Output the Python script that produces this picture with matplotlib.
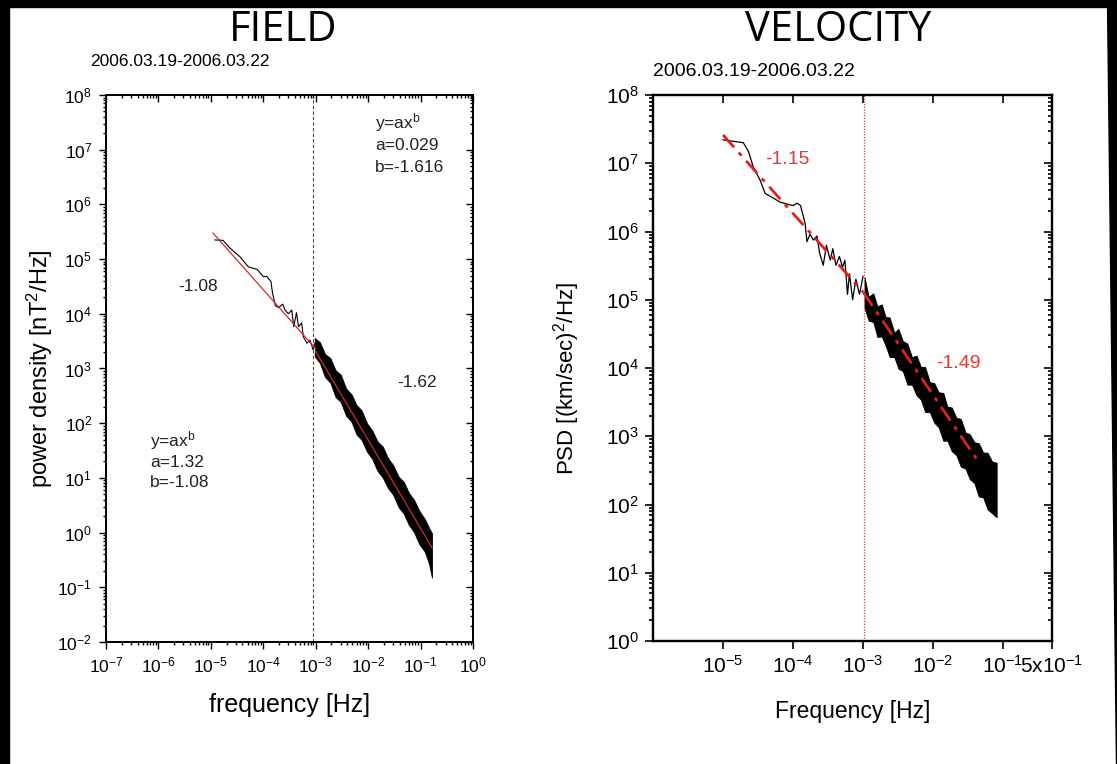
import numpy as np
import matplotlib.pyplot as plt
from matplotlib.patches import Rectangle, Polygon
from matplotlib.ticker import LogLocator, NullLocator, NullFormatter

plt.rcParams['font.family'] = ['Liberation Sans', 'DejaVu Sans']
plt.rcParams['mathtext.fontset'] = 'custom'
plt.rcParams['mathtext.rm'] = 'Liberation Sans'
plt.rcParams['mathtext.it'] = 'Liberation Sans:italic'
plt.rcParams['mathtext.default'] = 'regular'

# ---- FIELD spectrum ----
field_f = [1.2e-5, 1.7e-5, 2.3e-5, 3.6e-5, 5.2e-5, 7.6e-5, 1.0e-4, 1.17e-4, 1.4e-4, 1.5e-4,
           1.7e-4, 1.95e-4, 2.35e-4, 2.6e-4, 3.0e-4, 3.5e-4, 3.8e-4, 4.3e-4, 4.7e-4, 5.4e-4,
           5.8e-4, 6.8e-4, 7.8e-4, 8.9e-4, 9.6e-4]
field_p = [2.24e5, 2.2e5, 1.6e5, 1.1e5, 7.2e4, 6.5e4, 4.8e4, 4.8e4, 3.9e4, 2.4e4,
           1.4e4, 1.3e4, 1.5e4, 1.17e4, 1.0e4, 1.17e4, 5.8e3, 1.05e4, 5.8e3, 6.8e3,
           3.8e3, 2.9e3, 3.3e3, 2.2e3, 2.9e3]
# dense high-frequency band (upper / lower envelope)
field_band_f = [9.6e-4, 1.2e-3, 1.5e-3, 1.9e-3, 2.4e-3, 3.0e-3, 3.8e-3, 4.8e-3, 6.0e-3, 7.5e-3,
                9.5e-3, 1.2e-2, 1.5e-2, 1.9e-2, 2.4e-2, 3.0e-2, 3.8e-2, 4.8e-2, 6.0e-2, 7.5e-2,
                9.5e-2, 1.2e-1, 1.45e-1, 1.65e-1]
field_band_hi = [3620, 3030, 1850, 1550, 925, 774, 430, 339, 215, 172,
                 100, 73.5, 46.8, 37.4, 22.9, 17.1, 10.6, 8.4, 5.3, 3.98,
                 2.48, 1.78, 1.22, 0.97]
field_band_lo = [1660, 1260, 700, 548, 299, 245, 136, 107, 62, 49.7,
                 30.2, 22.2, 13.5, 10.1, 6.46, 4.93, 2.93, 2.21, 1.37, 1.02,
                 0.61, 0.45, 0.27, 0.15]
# power-law fits y = a x^b
field_fit1 = dict(a=1.32, b=-1.08, f=[1.1e-5, 1.0e-3])
field_fit2 = dict(a=0.029, b=-1.616, f=[1.0e-3, 1.65e-1])
field_break = 8.9e-4

# ---- VELOCITY spectrum ----
vel_f = [1.0e-5, 1.4e-5, 1.95e-5, 2.3e-5, 2.7e-5, 3.4e-5, 4.0e-5, 4.7e-5, 6.5e-5, 9.1e-5,
         1.0e-4, 1.15e-4, 1.28e-4, 1.49e-4, 1.58e-4, 1.75e-4, 1.95e-4, 2.2e-4, 2.4e-4, 2.7e-4,
         3.0e-4, 3.4e-4, 3.7e-4, 4.1e-4, 4.6e-4, 5.1e-4, 5.5e-4, 6.0e-4, 6.4e-4, 7.1e-4,
         7.9e-4, 8.9e-4, 1.0e-3]
vel_p = [2.2e7, 2.1e7, 2.0e7, 1.5e7, 8.9e6, 5.6e6, 3.6e6, 3.3e6, 2.7e6, 2.45e6,
         2.4e6, 2.6e6, 2.4e6, 1.3e6, 7.1e5, 9.1e5, 7.5e5, 8.6e5, 4.8e5, 3.2e5,
         6.3e5, 3.8e5, 5.6e5, 3.2e5, 4.3e5, 3.0e5, 3.8e5, 1.2e5, 2.4e5, 1.0e5,
         2.0e5, 1.2e5, 2.2e5]
vel_band_f = [1.05e-3, 1.2e-3, 1.4e-3, 1.6e-3, 1.85e-3, 2.1e-3, 2.4e-3, 2.8e-3, 3.2e-3, 3.7e-3,
              4.3e-3, 5.0e-3, 5.8e-3, 6.7e-3, 7.7e-3, 9.0e-3, 1.04e-2, 1.2e-2, 1.4e-2, 1.6e-2,
              1.85e-2, 2.15e-2, 2.5e-2, 2.9e-2, 3.35e-2, 3.9e-2, 4.5e-2, 5.2e-2, 6.0e-2, 7.0e-2,
              8.1e-2]
vel_band_hi = [2.15e5, 1.11e5, 1.24e5, 8.05e4, 8.53e4, 5.6e4, 5.5e4, 3.3e4, 3.73e4, 2.49e4,
               2.28e4, 1.44e4, 1.52e4, 1.04e4, 1.04e4, 6.2e3, 6.0e3, 4.42e3, 4.31e3, 2.73e3,
               2.64e3, 1.87e3, 1.79e3, 1.14e3, 1.07e3, 817, 791, 579, 574, 425,
               410]
vel_band_lo = [7.6e4, 4.95e4, 4.72e4, 2.86e4, 2.89e4, 2.13e4, 1.45e4, 1.44e4, 9.8e3, 9.0e3,
               5.7e3, 5.7e3, 4.0e3, 3.44e3, 2.27e3, 2.25e3, 1.58e3, 1.36e3, 859, 863,
               604, 528, 357, 336, 235, 205, 131, 127, 85, 74,
               65]
vel_fit1_f = [1.0e-5, 1.0e-3]
vel_fit1_p = [2.6e7, 1.3e5]
vel_fit2_f = [1.0e-3, 4.4e-2]
vel_fit2_p = [1.3e5, 4.3e2]
vel_break = 1.03e-3

W, H = 1117, 764
fig = plt.figure(figsize=(W / 100, H / 100), dpi=100)


def px(x0, y0, x1, y1):
    return [x0 / W, 1 - y1 / H, (x1 - x0) / W, (y1 - y0) / H]


def mirror_ticks(ax, xlim, ylim, xmajor, xminor, ylen, mw):
    # top and right ticks point the same way as bottom/left ones (down / left)
    ax.tick_params(which='both', direction='out', top=False, right=False, width=mw)
    t = ax.twiny()
    t.set_xscale('log')
    t.set_xlim(xlim)
    t.xaxis.set_major_locator(xmajor)
    t.xaxis.set_minor_locator(xminor)
    t.tick_params(axis='x', which='both', direction='in', labeltop=False, width=mw)
    t.tick_params(axis='x', which='major', length=ylen[0])
    t.tick_params(axis='x', which='minor', length=ylen[1])
    r = ax.twinx()
    r.set_yscale('log')
    r.set_ylim(ylim)
    r.yaxis.set_major_locator(LogLocator(base=10, numticks=30))
    r.yaxis.set_minor_locator(LogLocator(base=10, subs=np.arange(2, 10), numticks=300))
    r.yaxis.set_minor_formatter(NullFormatter())
    r.tick_params(axis='y', which='both', direction='in', labelright=False, width=mw)
    r.tick_params(axis='y', which='major', length=ylen[0])
    r.tick_params(axis='y', which='minor', length=ylen[1])
    for a in (t, r):
        for s in a.spines.values():
            s.set_linewidth(mw + 0.3)


# ================= FIELD =================
ax1 = fig.add_axes(px(106, 95, 473, 642))
ax1.set_xscale('log')
ax1.set_yscale('log')
ax1.fill_between(field_band_f, field_band_lo, field_band_hi, color='black', lw=0.6)
ax1.plot(field_f, field_p, color='black', lw=0.8)
ff1 = np.array(field_fit1['f'])
ax1.plot(ff1, field_fit1['a'] * ff1 ** field_fit1['b'], color='#d42a2a', lw=0.9)
ff2 = np.array(field_fit2['f'])
ax1.plot(ff2, field_fit2['a'] * ff2 ** field_fit2['b'], color='#d42a2a', lw=0.9)
ax1.axvline(field_break, color='#c81010', ls=(0, (3, 2)), lw=0.8)
ax1.set_xlim(1e-7, 1e0)
ax1.set_ylim(1e-2, 1e8)
ax1.xaxis.set_major_locator(LogLocator(base=10, numticks=30))
ax1.xaxis.set_minor_locator(LogLocator(base=10, subs=np.arange(2, 10), numticks=300))
ax1.yaxis.set_major_locator(LogLocator(base=10, numticks=30))
ax1.yaxis.set_minor_locator(LogLocator(base=10, subs=np.arange(2, 10), numticks=300))
ax1.xaxis.set_minor_formatter(NullFormatter())
ax1.yaxis.set_minor_formatter(NullFormatter())
ax1.tick_params(labelsize=12.5, pad=5)
ax1.tick_params(which='major', length=5)
ax1.tick_params(which='minor', length=2.5)
for s in ax1.spines.values():
    s.set_linewidth(1.3)
mirror_ticks(ax1, (1e-7, 1e0), (1e-2, 1e8),
             LogLocator(base=10, numticks=30),
             LogLocator(base=10, subs=np.arange(2, 10), numticks=300), (5, 2.5), 1.0)
ax1.set_xlabel('frequency [Hz]', fontsize=18)
ax1.xaxis.set_label_coords(0.5, -0.093)
ax1.set_ylabel('power density [nT$^2$/Hz]', fontsize=17)
ax1.yaxis.set_label_coords(-0.139, 0.5)

txt = dict(fontsize=12.5, color='#222222')
ax1.text(1.35e-2, 10 ** 7.49, 'y=ax$^{b}$', va='center', ha='left', **txt)
ax1.text(1.35e-2, 10 ** 7.07, 'a=0.029', va='center', ha='left', **txt)
ax1.text(1.35e-2, 10 ** 6.67, 'b=-1.616', va='center', ha='left', **txt)
ax1.text(6.9e-7, 10 ** 1.69, 'y=ax$^{b}$', va='center', ha='left', **txt)
ax1.text(6.9e-7, 10 ** 1.29, 'a=1.32', va='center', ha='left', **txt)
ax1.text(6.9e-7, 10 ** 0.907, 'b=-1.08', va='center', ha='left', **txt)
ax1.text(5.7e-6, 10 ** 4.49, '-1.08', va='center', ha='center', **txt)
ax1.text(8.6e-2, 10 ** 2.75, '-1.62', va='center', ha='center', **txt)

# ================= VELOCITY =================
ax2 = fig.add_axes(px(653, 95, 1052, 641))
ax2.set_xscale('log')
ax2.set_yscale('log')
ax2.fill_between(vel_band_f, vel_band_lo, vel_band_hi, color='black', lw=0.6)
ax2.plot(vel_f, vel_p, color='black', lw=0.9)
ax2.plot(vel_fit1_f, vel_fit1_p, color='#e0201e', lw=2.0, ls=(0, (6, 2.5, 1.5, 2.5)))
ax2.plot(vel_fit2_f, vel_fit2_p, color='#e0201e', lw=2.0, ls=(0, (6, 2.5, 1.5, 2.5)))
ax2.axvline(vel_break, color='#c05050', ls=(0, (1, 1.2)), lw=0.9)
ax2.set_xlim(1e-6, 5e-1)
ax2.set_ylim(1e0, 1e8)
vel_xticks = [1e-5, 1e-4, 1e-3, 1e-2, 1e-1, 5e-1]
vel_xlabels = ['$10^{-5}$', '$10^{-4}$', '$10^{-3}$', '$10^{-2}$', '$10^{-1}$', '$5x10^{-1}$']
ax2.set_xticks(vel_xticks, labels=vel_xlabels)
ax2.xaxis.set_minor_locator(NullLocator())
ax2.yaxis.set_major_locator(LogLocator(base=10, numticks=30))
ax2.yaxis.set_minor_locator(LogLocator(base=10, subs=np.arange(2, 10), numticks=300))
ax2.yaxis.set_minor_formatter(NullFormatter())
ax2.tick_params(labelsize=15, pad=4)
ax2.tick_params(which='major', length=6)
ax2.tick_params(which='minor', length=3)
for s in ax2.spines.values():
    s.set_linewidth(1.6)
mirror_ticks(ax2, (1e-6, 5e-1), (1e0, 1e8),
             plt.FixedLocator(vel_xticks[:-1]), NullLocator(), (6, 3), 1.2)
ax2.set_xlabel('Frequency [Hz]', fontsize=16.5)
ax2.xaxis.set_label_coords(0.5, -0.108)
ax2.set_ylabel('PSD [(km/sec)$^2$/Hz]', fontsize=16)
ax2.yaxis.set_label_coords(-0.178, 0.48)
red = dict(fontsize=14, color='#e53935', va='center', ha='center')
ax2.text(8.2e-5, 10 ** 7.05, '-1.15', **red)
ax2.text(2.28e-2, 10 ** 4.07, '-1.49', **red)

# titles and dates
fig.text(283 / W, 1 - 30 / H, 'FIELD', fontsize=30, family='Open Sans',
         ha='center', va='center')
fig.text(838 / W, 1 - 30 / H, 'VELOCITY', fontsize=30, family='Open Sans',
         ha='center', va='center')
fig.text(90 / W, 1 - 61 / H, '2006.03.19-2006.03.22', fontsize=12.5, ha='left', va='center')
fig.text(653 / W, 1 - 72 / H, '2006.03.19-2006.03.22', fontsize=14, ha='left', va='center')

# black frame: left and top strips, right edge narrowing towards the bottom
for rect in [(0, 0, 9, H), (0, 0, W, 7)]:
    x0, y0, w, h = rect
    fig.add_artist(Rectangle((x0 / W, 1 - (y0 + h) / H), w / W, h / H,
                             transform=fig.transFigure, color='black', zorder=10))
fig.add_artist(Polygon([(1107 / W, 1), (1, 1), (1, 0), (1116 / W, 0)], closed=True,
                       transform=fig.transFigure, color='black', zorder=10))

fig.savefig('out.png', dpi=100)
